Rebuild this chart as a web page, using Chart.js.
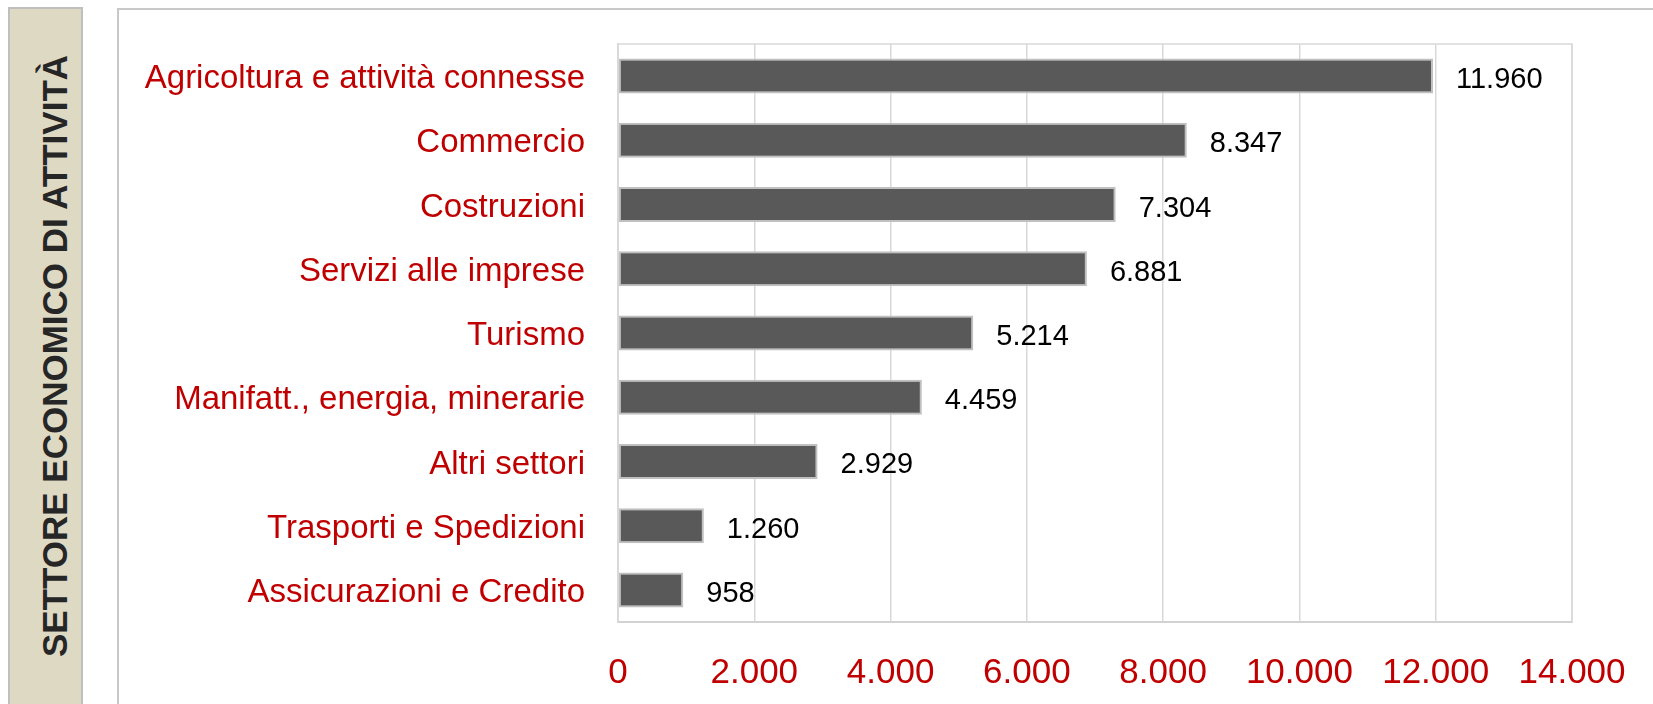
<!DOCTYPE html>
<html>
<head>
<meta charset="utf-8">
<script src="https://cdn.jsdelivr.net/npm/chart.js@4.4.0/dist/chart.umd.min.js"></script>
<style>
  html, body { margin:0; padding:0; background:#ffffff; width:1653px; height:704px; overflow:hidden; }
  #sideBox { position:absolute; left:8px; top:7px; width:71px; height:720px; background:#ddd9c3; border:2px solid #bfbfbf; }
  #sideTitle { position:absolute; left:55px; top:356px; transform:translate(-50%,-50%) rotate(-90deg); white-space:nowrap;
    font-family:"Liberation Sans", Arial, sans-serif; font-weight:bold; font-size:35px; color:#262626; }
  #frame { position:absolute; left:117px; top:8px; width:1600px; height:760px; border:2px solid #c8c8c8; }
  #wrap { position:absolute; left:0; top:0; width:1653px; height:704px; }
</style>
</head>
<body>
<div id="sideBox"></div>
<div id="frame"></div>
<div id="sideTitle">SETTORE ECONOMICO DI ATTIVITÀ</div>
<div id="wrap"><canvas id="c" width="1653" height="704"></canvas></div>
<script>
const categories = [
  "Agricoltura e attività connesse",
  "Commercio",
  "Costruzioni",
  "Servizi alle imprese",
  "Turismo",
  "Manifatt., energia, minerarie",
  "Altri settori",
  "Trasporti e Spedizioni",
  "Assicurazioni e Credito"
];
const values = [11960, 8347, 7304, 6881, 5214, 4459, 2929, 1260, 958];
const xTicks = [0, 2000, 4000, 6000, 8000, 10000, 12000, 14000];

function fmt(n) {
  return String(Math.round(n)).replace(/\B(?=(\d{3})+(?!\d))/g, ".");
}

const valueLabels = {
  id: 'valueLabels',
  afterDatasetsDraw(chart) {
    const ctx = chart.ctx;
    const meta = chart.getDatasetMeta(0);
    ctx.save();
    ctx.font = '29px "Liberation Sans", Arial, sans-serif';
    ctx.fillStyle = '#000000';
    ctx.textAlign = 'left';
    ctx.textBaseline = 'middle';
    meta.data.forEach((bar, i) => {
      ctx.fillText(fmt(chart.data.datasets[0].data[i]), bar.x + 23, bar.y + 4);
    });
    ctx.restore();
  }
};

const plotBox = {
  id: 'plotBox',
  beforeDatasetsDraw(chart) {
    const a = chart.chartArea;
    const ctx = chart.ctx;
    ctx.save();
    ctx.strokeStyle = '#d9d9d9';
    ctx.lineWidth = 1.5;
    ctx.strokeRect(a.left, a.top, a.right - a.left, a.bottom - a.top);
    ctx.restore();
  }
};

function noPad(scale) {
  scale.paddingTop = 0; scale.paddingBottom = 0;
  scale.paddingLeft = 0; scale.paddingRight = 0;
}

new Chart(document.getElementById('c'), {
  type: 'bar',
  data: {
    labels: categories,
    datasets: [{
      data: values,
      backgroundColor: '#595959',
      borderColor: '#c0c0c0',
      borderWidth: 2,
      borderSkipped: false,
      barPercentage: 0.545,
      categoryPercentage: 1.0
    }]
  },
  options: {
    indexAxis: 'y',
    responsive: false,
    animation: false,
    devicePixelRatio: 1,
    layout: { padding: { left: 0, top: 44, right: 81, bottom: 0 } },
    plugins: { legend: { display: false }, tooltip: { enabled: false } },
    scales: {
      x: {
        min: 0, max: 14000,
        afterBuildTicks(scale) { scale.ticks = xTicks.map(v => ({ value: v })); },
        afterFit(scale) { scale.height = 82; noPad(scale); },
        grid: { color: '#d9d9d9', lineWidth: 1.5, drawTicks: false },
        border: { display: true, color: '#bfbfbf', width: 2 },
        ticks: {
          autoSkip: false, maxRotation: 0, padding: 30,
          color: '#c00000',
          font: { family: '"Liberation Sans", Arial, sans-serif', size: 35 },
          callback: (v) => fmt(v)
        }
      },
      y: {
        afterFit(scale) { scale.width = 618; noPad(scale); },
        grid: { display: false, drawTicks: false },
        border: { display: true, color: '#d9d9d9', width: 1.5 },
        ticks: {
          padding: 33,
          labelOffset: 3,
          color: '#c00000',
          font: { family: '"Liberation Sans", Arial, sans-serif', size: 33 }
        }
      }
    }
  },
  plugins: [plotBox, valueLabels]
});
</script>
</body>
</html>
